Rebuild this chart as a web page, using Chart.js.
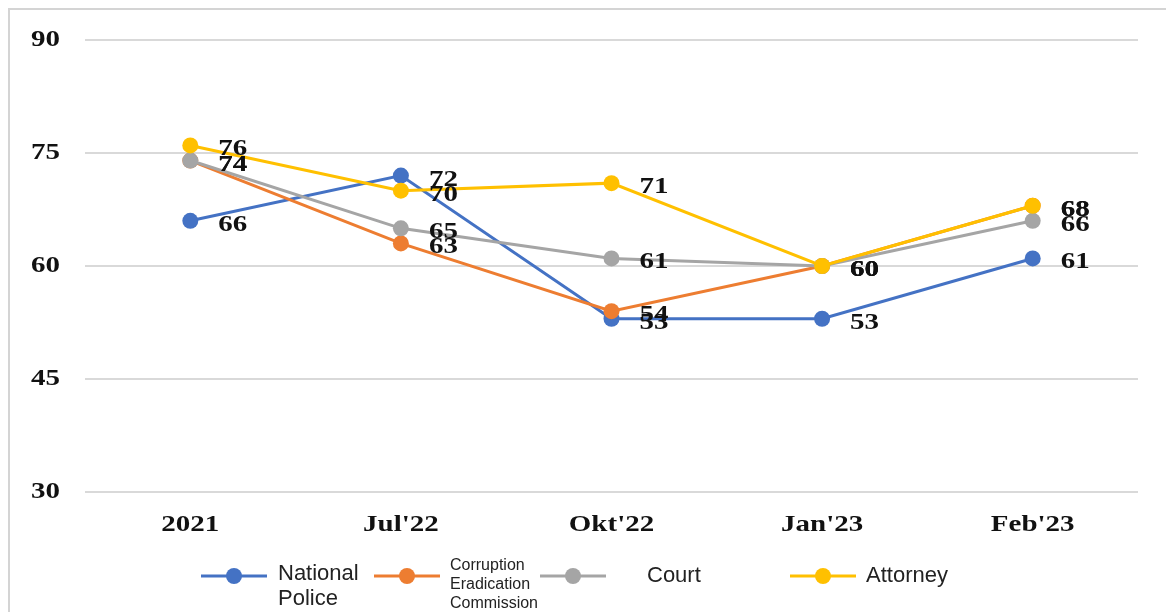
<!DOCTYPE html>
<html>
<head>
<meta charset="utf-8">
<script src="https://cdn.jsdelivr.net/npm/chart.js@4/dist/chart.umd.min.js"></script>
<style>
  html, body { margin: 0; padding: 0; background: #fff; }
  #wrap { width: 1166px; height: 612px; position: relative; }
</style>
</head>
<body>
<div id="wrap"><canvas id="chart"></canvas></div>
<script>
const periods = ["2021", "Jul'22", "Okt'22", "Jan'23", "Feb'23"];

const nationalPolice = [66, 72, 53, 53, 61];
const kpk = [74, 63, 54, 60, 68];
const court = [74, 65, 61, 60, 66];
const attorney = [76, 70, 71, 60, 68];

const yTicks = [30, 45, 60, 75, 90];

// legend text, one entry per line of the label
const legendItems = [
  { lines: ["National", "Police"], size: 22 },
  { lines: ["Corruption", "Eradication", "Commission"], size: 16 },
  { lines: ["Court"], size: 22 },
  { lines: ["Attorney"], size: 22 }
];

const colors = ["#4472C4", "#ED7D31", "#A5A5A5", "#FFC000"];
const serif = "'Liberation Serif', 'Times New Roman', serif";
const sans = "'Liberation Sans', Arial, sans-serif";
const WIDE = 1.26; // the bold serif labels are set wide

function series(label, data, i, order) {
  return {
    label: label,
    data: data,
    order: order,
    borderColor: colors[i],
    backgroundColor: colors[i],
    borderWidth: 3,
    pointRadius: 8,
    pointHoverRadius: 8,
    pointBorderWidth: 0,
    tension: 0
  };
}

function wideText(ctx, text, x, y, align) {
  ctx.save();
  ctx.translate(x, y);
  ctx.scale(WIDE, 1);
  ctx.textAlign = align;
  ctx.fillText(text, 0, 0);
  ctx.restore();
}

// thin frame on the top and left edges
const framePlugin = {
  id: 'frame',
  beforeDraw(chart) {
    const ctx = chart.ctx;
    ctx.save();
    ctx.strokeStyle = '#d4d4d4';
    ctx.lineWidth = 2;
    ctx.beginPath();
    ctx.moveTo(9, 612);
    ctx.lineTo(9, 9);
    ctx.lineTo(1166, 9);
    ctx.stroke();
    ctx.restore();
  }
};

// axis labels, placed from the scales
const axisLabels = {
  id: 'axisLabels',
  afterDraw(chart) {
    const ctx = chart.ctx;
    const xs = chart.scales.x, ys = chart.scales.y;
    ctx.save();
    ctx.fillStyle = '#111';
    ctx.font = "bold 23px " + serif;
    ctx.textBaseline = 'middle';
    yTicks.forEach(v => wideText(ctx, String(v), 60, ys.getPixelForValue(v), 'right'));
    ctx.textBaseline = 'alphabetic';
    periods.forEach((p, i) => wideText(ctx, p, xs.getPixelForValue(i), 531, 'center'));
    ctx.restore();
  }
};

// value labels to the right of each point
const valueLabels = {
  id: 'valueLabels',
  afterDatasetsDraw(chart) {
    const ctx = chart.ctx;
    ctx.save();
    ctx.font = "bold 23px " + serif;
    ctx.fillStyle = '#111';
    ctx.textBaseline = 'alphabetic';
    chart.data.datasets.forEach((ds, i) => {
      chart.getDatasetMeta(i).data.forEach((pt, j) => {
        wideText(ctx, String(ds.data[j]), pt.x + 28, pt.y + 10, 'left');
      });
    });
    ctx.restore();
  }
};

// legend row under the axis
const legendRow = {
  id: 'legendRow',
  afterDraw(chart) {
    const ctx = chart.ctx;
    const starts = [201, 374, 540, 790];
    const textX = [278, 450, 647, 866];
    const lineY = [[574, 599], [566, 585, 604], [576], [576]];
    const y = 576;
    ctx.save();
    legendItems.forEach((item, i) => {
      const x0 = starts[i];
      ctx.strokeStyle = colors[i];
      ctx.lineWidth = 3;
      ctx.beginPath();
      ctx.moveTo(x0, y);
      ctx.lineTo(x0 + 66, y);
      ctx.stroke();
      ctx.fillStyle = colors[i];
      ctx.beginPath();
      ctx.arc(x0 + 33, y, 8, 0, Math.PI * 2);
      ctx.fill();

      ctx.fillStyle = '#222';
      ctx.font = item.size + "px " + sans;
      ctx.textAlign = 'left';
      ctx.textBaseline = 'middle';
      item.lines.forEach((ln, k) => ctx.fillText(ln, textX[i], lineY[i][k]));
    });
    ctx.restore();
  }
};

new Chart(document.getElementById('chart'), {
  type: 'line',
  data: {
    labels: periods,
    datasets: [
      series('National Police', nationalPolice, 0, 3),
      series('Corruption Eradication Commission', kpk, 1, 2),
      series('Court', court, 2, 1),
      series('Attorney', attorney, 3, 0)
    ]
  },
  options: {
    responsive: true,
    maintainAspectRatio: false,
    animation: false,
    events: [],
    layout: { padding: { top: 40, right: 28, bottom: 70, left: 0 } },
    plugins: {
      legend: { display: false },
      tooltip: { enabled: false }
    },
    scales: {
      x: {
        offset: true,
        grid: { display: false, drawTicks: false },
        border: { display: false },
        ticks: { display: false },
        afterFit(scale) { scale.height = 50; }
      },
      y: {
        min: 30,
        max: 90,
        afterBuildTicks(scale) { scale.ticks = yTicks.map(v => ({ value: v })); },
        grid: { color: '#d9d9d9', lineWidth: 2, drawTicks: false },
        border: { display: false },
        ticks: { display: false },
        afterFit(scale) { scale.width = 85; }
      }
    }
  },
  plugins: [framePlugin, axisLabels, valueLabels, legendRow]
});
</script>
</body>
</html>
